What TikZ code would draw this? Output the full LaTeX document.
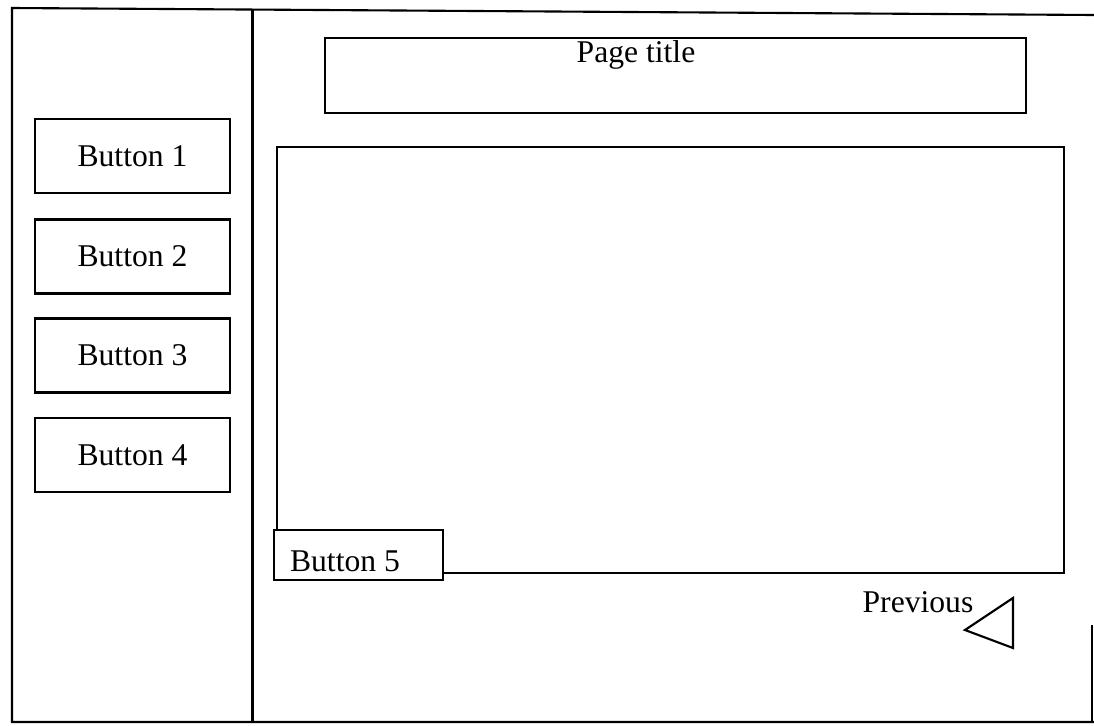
\documentclass[tikz,border=0pt]{standalone}
\usepackage{fontspec}
\setmainfont{Liberation Serif}
\usepackage{tikz}
\usetikzlibrary{positioning}

\begin{document}
\begin{tikzpicture}[line width=1.2pt,
        btn/.style={draw,minimum width=3.9cm,minimum height=1.48cm,font=\fontsize{18}{20}\selectfont},
        lbl/.style={font=\fontsize{18}{20}\selectfont,inner sep=0pt}]
        \useasboundingbox (0,0) rectangle (21.88,-14.52);
        % frame
        \coordinate (tl) at (0.24,-0.16);
        \coordinate (tr) at (21.88,-0.3);
        \coordinate (bl) at (0.24,-14.44);
        \coordinate (br) at (21.88,-14.44);
        \draw (tr)--(tl)--(bl)--(br);
        \draw (5.05,-0.18)--(5.05,-14.44);
        \draw (21.84,-12.5)--(21.84,-14.44);

        % left buttons
        \node[btn] (b1) at (2.65,-3.12) {Button 1};
        \node[btn] (b2) at (2.65,-5.13) {Button 2};
        \node[btn] (b3) at (2.65,-7.11) {Button 3};
        \node[btn] (b4) at (2.65,-9.1) {Button 4};

        % title and content
        \node[draw,minimum width=14.02cm,minimum height=1.5cm] (title) at (13.51,-1.51) {};
        \node[lbl] (titletext) at (12.72,-1.1) {Page title};
        \draw (5.54,-2.94) rectangle (21.28,-11.46);
        \draw[fill=white] (5.48,-10.6) rectangle (8.86,-11.6);
        \node[lbl] (b5) at (6.9,-11.22) {Button 5};

        % previous
        \node[lbl] (prev) at (18.36,-12.04) {Previous};
        \draw (20.26,-11.96)--(19.3,-12.6)--(20.26,-12.96)--cycle;
    \end{tikzpicture}
\end{document}
